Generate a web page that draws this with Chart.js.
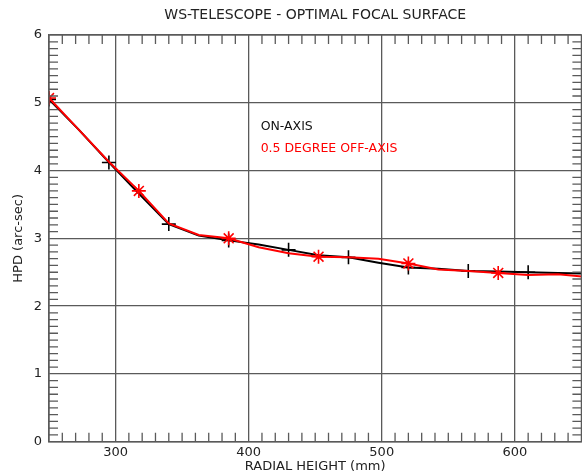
<!DOCTYPE html>
<html>
<head>
<meta charset="utf-8">
<title>WS-Telescope focal surface</title>
<script src="https://cdn.jsdelivr.net/npm/chart.js@4.4.1/dist/chart.umd.min.js"></script>
<style>
  html, body { margin: 0; padding: 0; background: #fff; overflow: hidden; }
  #plot { display: block; }
</style>
</head>
<body>
<canvas id="plot" width="590" height="476"></canvas>
<script>
// --- DATA ---

// radial height samples (mm)
const radialHeight = [250, 272.5, 295, 317.5, 340, 362.5, 385, 407.5, 430, 452.5,
                      475, 497.5, 520, 542.5, 565, 587.5, 610, 632.5, 655];
// half power diameter (arc-sec)
const hpdOnAxis  = [5.05, 4.60, 4.12, 3.66, 3.21, 3.04, 2.97, 2.91, 2.83, 2.75,
                    2.72, 2.64, 2.57, 2.55, 2.52, 2.51, 2.50, 2.49, 2.48];
const hpdOffAxis = [5.07, 4.60, 4.13, 3.70, 3.22, 3.05, 3.00, 2.87, 2.78, 2.73,
                    2.72, 2.70, 2.63, 2.54, 2.52, 2.49, 2.46, 2.47, 2.43];

const xMajorTicks = [300, 400, 500, 600];
const yMajorTicks = [0, 1, 2, 3, 4, 5, 6];
const xMinorStep = 10;
const yMinorStep = 0.1;

const seriesNames = ['ON-AXIS', '0.5 DEGREE OFF-AXIS'];

// --- STYLE ---

const FONT = '"DejaVu Sans", "Liberation Sans", sans-serif';
const GRID = '#5a5a5a';
const TICK_LEN = 9;

const toPoints = (xs, ys) => xs.map((x, i) => ({ x, y: ys[i] }));

/**
 * Frame, inward minor ticks and the in-plot series labels
 */
const framePlugin = {
    id: 'frame',
    afterDraw(chart) {
        const { ctx, chartArea: a, scales: { x, y } } = chart;
        ctx.save();
        ctx.strokeStyle = GRID;
        ctx.lineWidth = 1.3;
        ctx.strokeRect(a.left, a.top, a.right - a.left, a.bottom - a.top);

        ctx.beginPath();
        for (let v = x.min + xMinorStep; v < x.max; v += xMinorStep) {
            const r = Math.round(v);
            if (r % 100 === 0) continue;
            const px = x.getPixelForValue(r);
            ctx.moveTo(px, a.bottom); ctx.lineTo(px, a.bottom - TICK_LEN);
            ctx.moveTo(px, a.top);    ctx.lineTo(px, a.top + TICK_LEN);
        }
        for (let v = y.min + yMinorStep; v < y.max; v += yMinorStep) {
            const r = Math.round(v * 10) / 10;
            if (Number.isInteger(r)) continue;
            const py = y.getPixelForValue(r);
            ctx.moveTo(a.left, py);  ctx.lineTo(a.left + TICK_LEN, py);
            ctx.moveTo(a.right, py); ctx.lineTo(a.right - TICK_LEN, py);
        }
        ctx.stroke();

        // series labels
        ctx.font = '12.5px ' + FONT;
        ctx.textBaseline = 'middle';
        ctx.textAlign = 'left';
        const lx = x.getPixelForValue(409);
        ctx.fillStyle = '#111';
        ctx.fillText(seriesNames[0], lx, y.getPixelForValue(4.64));
        ctx.fillStyle = '#ff0000';
        ctx.fillText(seriesNames[1], lx, y.getPixelForValue(4.32));
        ctx.restore();
    }
};

const chart = new Chart(document.getElementById('plot'), {
    type: 'line',
    data: {
        datasets: [
            {
                label: seriesNames[1],
                data: toPoints(radialHeight, hpdOffAxis),
                borderColor: '#ff0000',
                backgroundColor: '#ff0000',
                borderWidth: 2,
                tension: 0,
                pointStyle: 'star',
                pointBorderWidth: 1.6,
                pointRadius: (c) => c.dataIndex % 3 === 0 ? 7 : 0,
                order: 0
            },
            {
                label: seriesNames[0],
                data: toPoints(radialHeight, hpdOnAxis),
                borderColor: '#000',
                backgroundColor: '#000',
                borderWidth: 2,
                tension: 0,
                pointStyle: 'cross',
                pointBorderWidth: 1.6,
                pointRadius: (c) => c.dataIndex % 2 === 0 ? 7 : 0,
                order: 1
            }
        ]
    },
    options: {
        responsive: false,
        animation: false,
        layout: { padding: { right: 6 } },
        plugins: {
            legend: { display: false },
            tooltip: { enabled: false },
            title: {
                display: true,
                text: 'WS-TELESCOPE - OPTIMAL FOCAL SURFACE',
                fullSize: false,
                color: '#222',
                font: { family: FONT, size: 14, weight: 'normal' },
                padding: { top: 7, bottom: 11.2 }
            }
        },
        scales: {
            x: {
                type: 'linear',
                min: 250,
                max: 650,
                afterBuildTicks: (s) => { s.ticks = xMajorTicks.map(v => ({ value: v })); },
                afterFit: (s) => { s.height = 34.3; },
                border: { color: GRID, width: 1.3 },
                grid: { color: GRID, lineWidth: 1.3, drawTicks: false },
                ticks: {
                    color: '#222',
                    padding: 3,
                    maxRotation: 0,
                    autoSkip: false,
                    font: { family: FONT, size: 13 }
                },
                title: {
                    display: true,
                    text: 'RADIAL HEIGHT (mm)',
                    color: '#222',
                    font: { family: FONT, size: 13 },
                    padding: { top: 0, bottom: 1.5 }
                }
            },
            y: {
                min: 0,
                max: 6,
                afterBuildTicks: (s) => { s.ticks = yMajorTicks.map(v => ({ value: v })); },
                afterFit: (s) => { s.width = 49; },
                border: { color: GRID, width: 1.3 },
                grid: { color: GRID, lineWidth: 1.3, drawTicks: false },
                ticks: {
                    color: '#222',
                    padding: 7,
                    font: { family: FONT, size: 13 }
                },
                title: {
                    display: true,
                    text: 'HPD (arc-sec)',
                    color: '#222',
                    font: { family: FONT, size: 13 },
                    padding: { top: 10.5, bottom: 0 }
                }
            }
        }
    },
    plugins: [framePlugin]
});
</script>
</body>
</html>
